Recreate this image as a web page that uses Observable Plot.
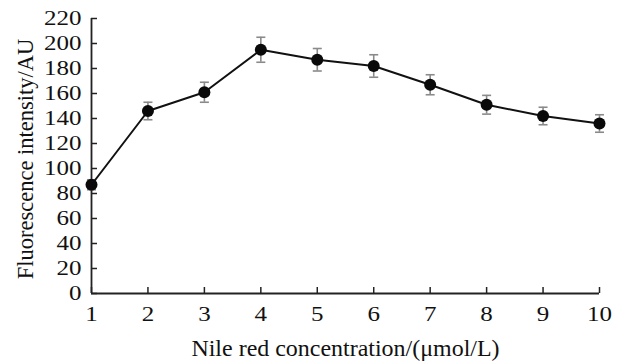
<!DOCTYPE html>
<html>
<head>
<meta charset="utf-8">
<script src="https://cdn.jsdelivr.net/npm/d3@7"></script>
<script src="https://cdn.jsdelivr.net/npm/@observablehq/plot@0.6"></script>
<style>
  html, body { margin: 0; padding: 0; background: #ffffff; }
  #chart svg { display: block; background: #ffffff; }
</style>
</head>
<body>
<div id="chart"></div>
<script>
const concentration = [1, 2, 3, 4, 5, 6, 7, 8, 9, 10];
const intensity = [87, 146, 161, 195, 187, 182, 167, 151, 142, 136];
const errors = [4, 7, 8, 10, 9, 9, 8, 7.5, 7, 7];
const xTicks = [1, 2, 3, 4, 5, 6, 7, 8, 9, 10];
const yTicks = [0, 20, 40, 60, 80, 100, 120, 140, 160, 180, 200, 220];
const xTitle = "Nile red concentration/(μmol/L)";
const yTitle = "Fluorescence intensity/AU";

const data = concentration.map((c, i) => ({x: c, y: intensity[i], lo: intensity[i] - errors[i], hi: intensity[i] + errors[i]}));

const capSymbol = {
  draw(context, size) {
    const w = Math.sqrt(size / Math.PI);
    context.moveTo(-w, 0);
    context.lineTo(w, 0);
  }
};

const font = "Liberation Serif, Times New Roman, serif";

const chart = Plot.plot({
  width: 627,
  height: 361,
  marginLeft: 91,
  marginRight: 28,
  marginTop: 18,
  marginBottom: 68,
  style: {fontFamily: font, background: "#ffffff", color: "#111"},
  x: {domain: [1, 10]},
  y: {domain: [0, 220]},
  marks: [
    Plot.axisX({ticks: xTicks, tickSize: -6, tickPadding: 19, fontSize: 20, fontFamily: font, label: null, stroke: "#222", strokeWidth: 1.5}),
    Plot.axisY({ticks: yTicks, tickSize: -6, tickPadding: 16, fontSize: 20, fontFamily: font, label: null, stroke: "#222", strokeWidth: 1.5}),
    Plot.ruleY([0], {x1: 1, x2: 10, stroke: "#222", strokeWidth: 1.8}),
    Plot.ruleX([1], {y1: 0, y2: 220, stroke: "#222", strokeWidth: 1.8}),
    Plot.ruleX(data, {x: "x", y1: "lo", y2: "hi", stroke: "#8a8a8a", strokeWidth: 1.6}),
    Plot.dot(data, {x: "x", y: "hi", symbol: capSymbol, r: 4.5, stroke: "#8a8a8a", strokeWidth: 1.6, fill: "none"}),
    Plot.dot(data, {x: "x", y: "lo", symbol: capSymbol, r: 4.5, stroke: "#8a8a8a", strokeWidth: 1.6, fill: "none"}),
    Plot.line(data, {x: "x", y: "y", stroke: "#111", strokeWidth: 2}),
    Plot.dot(data, {x: "x", y: "y", r: 6, fill: "#0a0a0a", stroke: "none"}),
    Plot.text([xTitle], {frameAnchor: "bottom", dy: 55, fontSize: 22.5, fontFamily: font, fill: "#111", textAnchor: "middle", lineAnchor: "middle", className: "xtitle"}),
    Plot.text([yTitle], {frameAnchor: "left", dx: -66, dy: 3, rotate: -90, fontSize: 22.5, fontFamily: font, fill: "#111", textAnchor: "middle", lineAnchor: "middle", className: "ytitle"})
  ]
});

function stretch(sel, s) {
  chart.querySelectorAll(sel).forEach(t => {
    const tr = t.getAttribute("transform");
    if (tr) {
      t.setAttribute("transform", tr + ` scale(${s},1)`);
    } else {
      const x = +(t.getAttribute("x") || 0), y = +(t.getAttribute("y") || 0);
      t.removeAttribute("x"); t.removeAttribute("y");
      t.setAttribute("transform", `translate(${x},${y}) scale(${s},1)`);
    }
  });
}
stretch('[aria-label="x-axis tick label"] text, [aria-label="y-axis tick label"] text', 1.25);
stretch('.xtitle text', 1.065);

document.getElementById("chart").append(chart);
</script>
</body>
</html>
